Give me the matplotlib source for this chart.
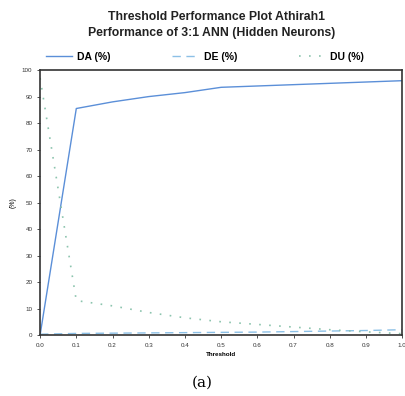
import matplotlib
matplotlib.use("Agg")
from matplotlib import pyplot as plt

# threshold values and the three performance series (%)
thresholds = [0.0, 0.1, 0.2, 0.3, 0.4, 0.5, 0.6, 0.7, 0.8, 0.9, 1.0]
da = [0.0, 85.5, 88.0, 90.0, 91.5, 93.5, 94.0, 94.5, 95.0, 95.5, 96.0]
de = [0.3, 0.6, 0.7, 0.8, 0.9, 1.0, 1.1, 1.3, 1.5, 1.7, 2.0]
du = [97.0, 13.0, 11.0, 8.5, 6.5, 5.0, 4.0, 3.0, 2.0, 1.2, 0.5]

plt.rcParams['font.family'] = ['Liberation Sans', 'DejaVu Sans']

fig = plt.figure(figsize=(4.05, 3.96), dpi=100)
ax = fig.add_axes([0.099, 0.154, 0.894, 0.669])

ax.plot(thresholds, da, c='#5b8fd8', lw=1.0, label='DA (%)')
ax.plot(thresholds, de, c='#8cc0e6', lw=1.0, ls=(0, (6, 4)), label='DE (%)')
ax.plot(thresholds, du, c='#8cc4ae', lw=1.2, ls=(0, (1, 5)), label='DU (%)')

ax.set_xlim(0, 1.0)
ax.set_ylim(0, 100)
ax.set_xticks([i / 10 for i in range(11)])
ax.set_xticklabels(['0.0', '0.1', '0.2', '0.3', '0.4', '0.5', '0.6', '0.7', '0.8', '0.9', '1.0'])
ax.set_yticks(range(0, 101, 10))
ax.tick_params(axis='both', which='major', labelsize=4.5, length=2, width=0.6, colors='#333333')
for s in ax.spines.values():
    s.set_linewidth(1.2)
    s.set_color('#333333')

ax.set_xlabel('Threshold', fontsize=4.5, fontweight='bold', labelpad=3)
ax.set_ylabel('(%)', fontsize=5, labelpad=4)

fig.text(0.535, 0.958, 'Threshold Performance Plot Athirah1', ha='center', va='center',
         fontsize=8.8, fontweight='semibold', color='#222222')
fig.text(0.522, 0.917, 'Performance of 3:1 ANN (Hidden Neurons)', ha='center', va='center',
         fontsize=8.8, fontweight='semibold', color='#222222')

leg = ax.legend(bbox_to_anchor=(-0.01, 0.995, 0.93, 0.06), loc='lower left', mode='expand',
                ncol=3, frameon=False, fontsize=7.5, handlelength=2.5, handletextpad=0.5)
for t in leg.get_texts():
    t.set_fontweight('bold')

fig.text(0.5, 0.033, '(a)', ha='center', va='center', fontsize=11, family='DejaVu Serif')

fig.savefig('out.png', dpi=100)
